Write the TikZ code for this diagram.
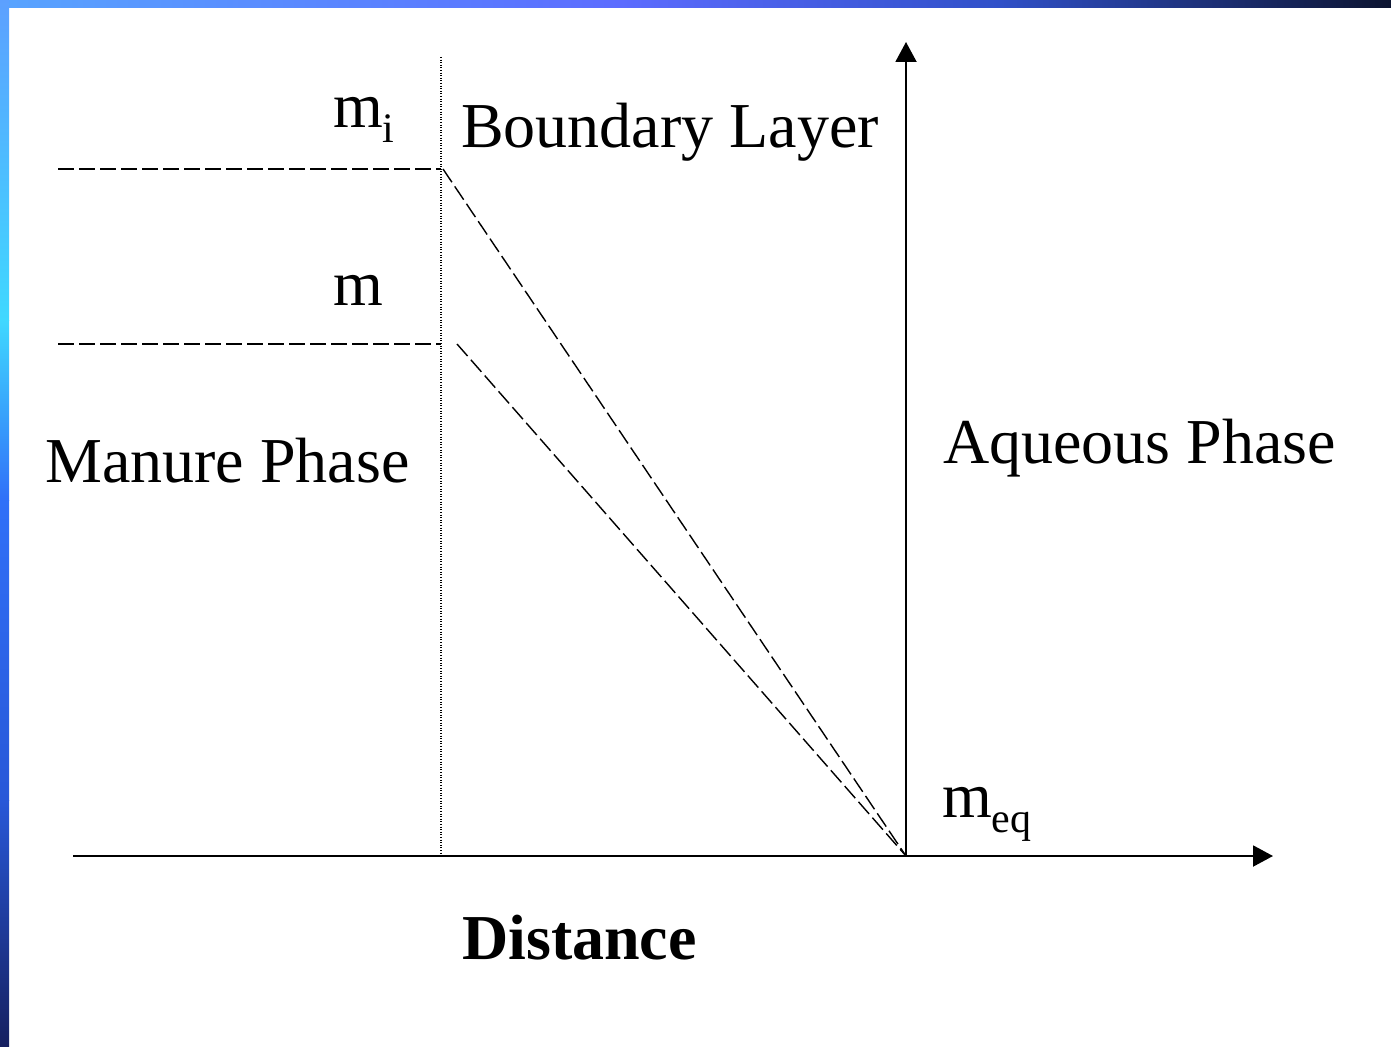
\documentclass[tikz,border=0pt]{standalone}
\usepackage{fontspec}
\setmainfont{Liberation Serif}
\usetikzlibrary{arrows.meta}
\definecolor{topA}{HTML}{58A4FF}
\definecolor{topB}{HTML}{5C6CFF}
\definecolor{topC}{HTML}{3050C8}
\definecolor{topD}{HTML}{0C1430}
\definecolor{sideA}{HTML}{5CA0FF}
\definecolor{sideB}{HTML}{40D8FF}
\definecolor{sideC}{HTML}{3070F8}
\definecolor{sideD}{HTML}{2858D8}
\definecolor{sideE}{HTML}{162060}
\newcommand{\lowsub}[1]{\raisebox{-15pt}{\fontsize{42}{42}\selectfont #1}}

\begin{document}
\begin{tikzpicture}[x=1pt, y=-1pt,
  lbl/.style={inner sep=0pt, anchor=base west, font=\fontsize{64}{72}\selectfont},
  axis/.style={line width=2pt, -{Triangle[length=20pt, width=21pt]}},
  guide/.style={line width=1.4pt, dash pattern=on 16pt off 5pt},
  wall/.style={line width=1.1pt, dash pattern=on 1pt off 1.6pt}
]
  \useasboundingbox (0,0) rectangle (1391,1046);
  % slide frame
  \fill[white] (0,0) rectangle (1391,1046);
  \shade[left color=topA, right color=topB] (0,0) rectangle (620,8);
  \shade[left color=topB, right color=topC] (620,0) rectangle (1000,8);
  \shade[left color=topC, right color=topD] (1000,0) rectangle (1391,8);
  \shade[top color=sideA, bottom color=sideB] (0,0) rectangle (9,320);
  \shade[top color=sideB, bottom color=sideC] (0,320) rectangle (9,500);
  \shade[top color=sideC, bottom color=sideD] (0,500) rectangle (9,800);
  \shade[top color=sideD, bottom color=sideE] (0,800) rectangle (9,1046);

  % key points
  \coordinate (origin) at (906,856);
  \coordinate (ytip) at (906,42);
  \coordinate (xstart) at (73,856);
  \coordinate (xtip) at (1273,856);
  \coordinate (walltop) at (441,57);
  \coordinate (wallbot) at (441,856);
  \coordinate (mileft) at (58,169);
  \coordinate (miwall) at (441,169);
  \coordinate (mistart) at (443,169);
  \coordinate (mleft) at (58,344);
  \coordinate (mwall) at (441,344);
  \coordinate (mstart) at (457,344);

  % axes
  \draw[axis] (xstart) -- (xtip);
  \draw[axis] (origin) -- (ytip);
  \draw[wall] (walltop) -- (wallbot);

  % concentration profiles
  \draw[guide] (mileft) -- (miwall);
  \draw[guide] (mleft) -- (mwall);
  \draw[guide] (mistart) -- (origin);
  \draw[guide] (mstart) -- (origin);

  % labels
  \node[lbl] (mi) at (333,128) {m\lowsub{i}};
  \node[lbl] (layer) at (461,147) {Boundary Layer};
  \node[lbl] (mval) at (333,305) {m};
  \node[lbl] (manure) at (45,482) {Manure Phase};
  \node[lbl] (aqueous) at (943,463) {Aqueous Phase};
  \node[lbl] (meq) at (942,817) {m\lowsub{eq}};
  \node[lbl, font=\fontsize{64}{72}\selectfont\bfseries] (dist) at (462,959) {Distance};
\end{tikzpicture}
\end{document}
